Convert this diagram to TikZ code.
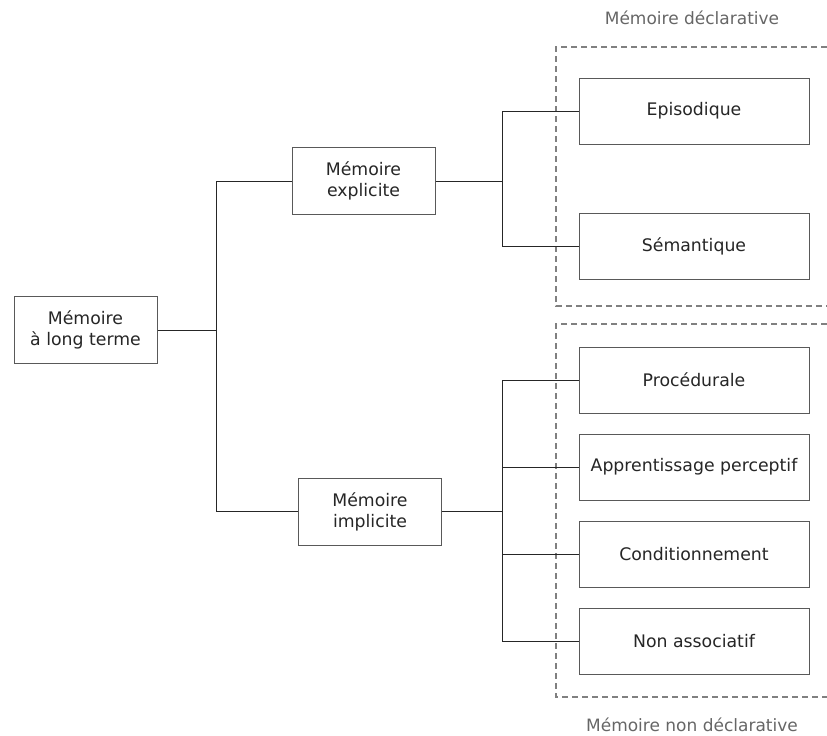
\documentclass[tikz,border=0pt]{standalone}
\usepackage{fontspec}
\setmainfont{DejaVu Sans}
\begin{document}
\begin{tikzpicture}[x=1pt,y=-1pt,
  box/.style={draw=black!65, line width=1pt, fill=white, inner sep=0pt, align=center,
    font=\fontsize{17.3}{21}\selectfont, text=black!85},
  leaf/.style={box, minimum width=230pt, minimum height=66pt},
  mid/.style={box, minimum width=143pt, minimum height=67pt},
  conn/.style={draw=black!85, line width=0.9pt},
  group/.style={draw=black!50, line width=1.1pt, dash pattern=on 6pt off 4pt},
  grouplabel/.style={font=\fontsize{17}{20}\selectfont, text=black!60}
]
\useasboundingbox (0,0) rectangle (827,736);
% dashed groups
\draw[group] (827,47) -- (556,47) -- (556,306) -- (827,306);
\draw[group] (827,324) -- (556,324) -- (556,697) -- (827,697);
\node[grouplabel] (ldecl) at (692,18) {Mémoire déclarative};
\node[grouplabel] (lndecl) at (692,725) {Mémoire non déclarative};

% nodes
\node[mid] (lt) at (85.5,330) {Mémoire\\à long terme};
\node[mid] (exp) at (363.5,181) {Mémoire\\explicite};
\node[mid] (imp) at (370,511.5) {Mémoire\\implicite};
\node[leaf] (epi) at (694,111) {Episodique};
\node[leaf] (sem) at (694,246.5) {Sémantique};
\node[leaf] (pro) at (694,380) {Procédurale};
\node[leaf] (app) at (694,467) {Apprentissage perceptif};
\node[leaf] (con) at (694,554) {Conditionnement};
\node[leaf] (non) at (694,641) {Non associatif};

% junctions
\coordinate (j1) at (216,330);
\coordinate (j2) at (502,181);
\coordinate (j3) at (502,511.5);

\draw[conn] (lt.east |- j1) -- (j1);
\draw[conn] (j1) |- (exp.west);
\draw[conn] (j1) |- (imp.west);
\draw[conn] (exp.east) -- (j2);
\draw[conn] (j2) |- (epi.west);
\draw[conn] (j2) |- (sem.west);
\draw[conn] (imp.east) -- (j3);
\draw[conn] (j3) |- (pro.west);
\draw[conn] (j3) |- (app.west);
\draw[conn] (j3) |- (con.west);
\draw[conn] (j3) |- (non.west);
\end{tikzpicture}
\end{document}
